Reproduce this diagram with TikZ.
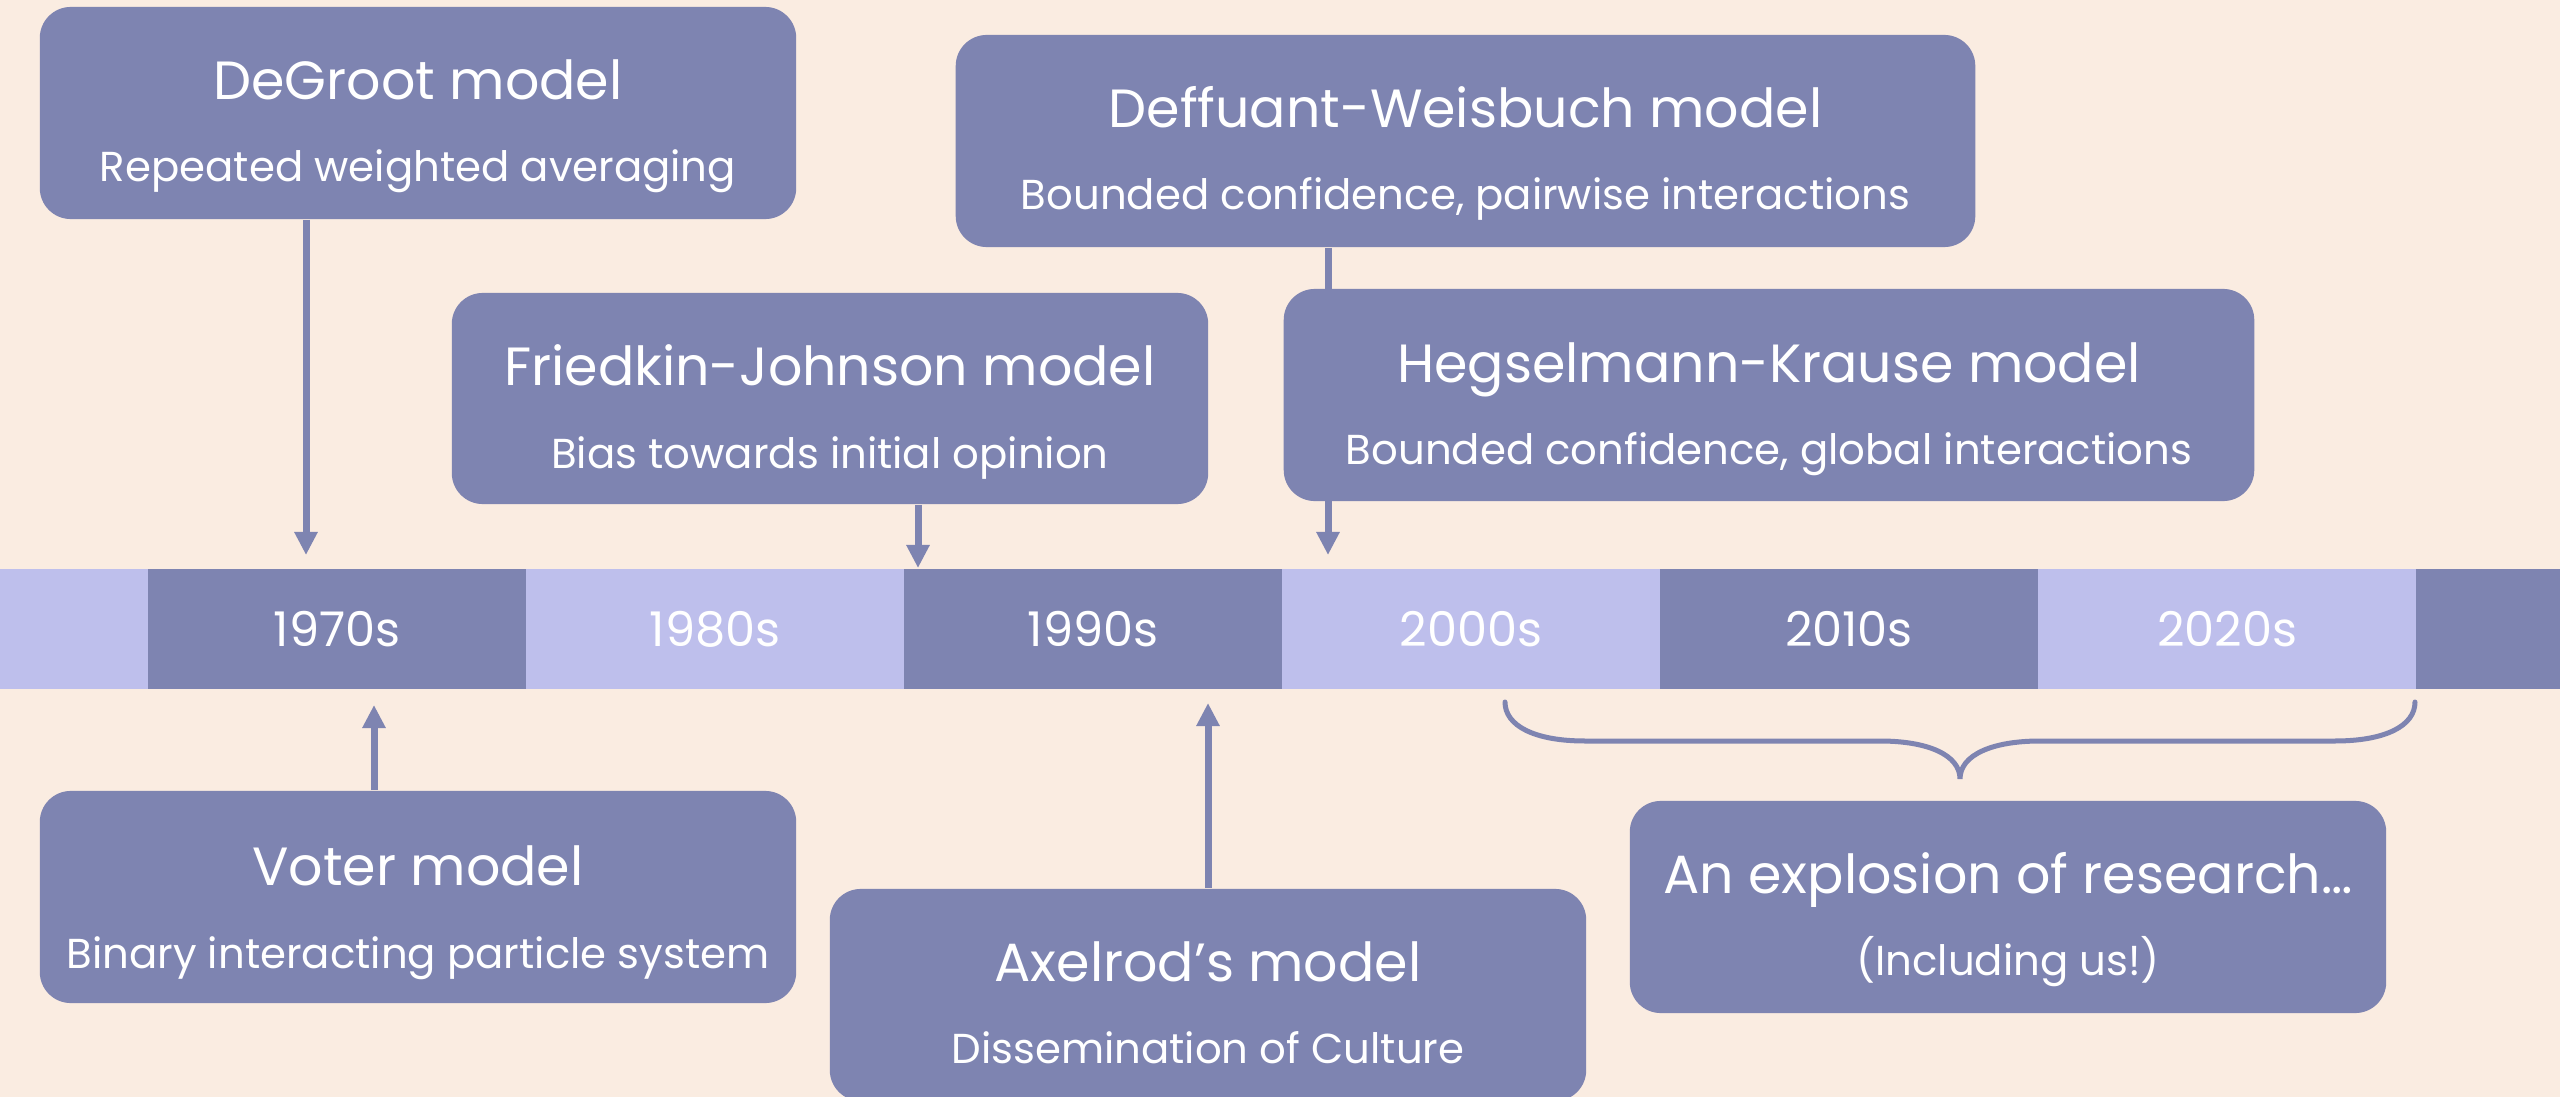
\documentclass[tikz,border=0pt]{standalone}
\usepackage{fontspec}
\setmainfont{Poppins}
\usetikzlibrary{arrows.meta}

\definecolor{bg}{HTML}{FAECE1}
\definecolor{deep}{HTML}{7E84B1}
\definecolor{pale}{HTML}{BEBFEC}

\tikzset{
  card/.style={fill=deep, rounded corners=0.31cm, inner sep=0pt,
               minimum width=7.56cm, minimum height=2.12cm},
  ttl/.style={text=white, anchor=base, inner sep=0pt,
              font=\fontsize{15.3}{18}\selectfont},
  sub/.style={text=white, anchor=base, inner sep=0pt,
              font=\fontsize{11.9}{15}\selectfont},
  era/.style={minimum width=3.78cm, minimum height=1.2cm, inner sep=0pt,
              text=white, font=\fontsize{13.6}{16}\selectfont},
  darkera/.style={era, fill=deep},
  lightera/.style={era, fill=pale},
  link/.style={draw=deep, line width=0.07cm,
               -{Triangle[length=0.23cm, width=0.22cm]}},
  brace/.style={draw=deep, line width=0.05cm, line cap=round},
}

\begin{document}
\begin{tikzpicture}[x=0.01cm, y=-0.01cm]
  % canvas
  \useasboundingbox (0,0) rectangle (2560,1097);
  \fill[bg] (0,0) rectangle (2560,1097);

  % timeline band
  \node[lightera, minimum width=1.48cm] (pre) at (74,629) {};
  \node[darkera]  (d70) at (337,629)  {1970s};
  \node[lightera] (d80) at (715,629)  {1980s};
  \node[darkera]  (d90) at (1093,629) {1990s};
  \node[lightera] (d00) at (1471,629) {2000s};
  \node[darkera]  (d10) at (1849,629) {2010s};
  \node[lightera] (d20) at (2227,629) {2020s};
  \node[darkera, minimum width=1.44cm] (post) at (2488,629) {};

  % arrow tips near the band
  \coordinate (tDG) at (306,555);
  \coordinate (tFJ) at (918,568);
  \coordinate (tDW) at (1328,555);
  \coordinate (tVM) at (374,705);
  \coordinate (tAX) at (1208,703);

  % Deffuant-Weisbuch box and its connector (runs behind the HK box)
  \node[card, minimum width=10.19cm] (dw) at (1465.5,141) {};
  \draw[link] (dw.south -| tDW) -- (tDW);

  % model boxes
  \node[card] (dg) at (418,113) {};
  \node[card, minimum height=2.11cm] (fj) at (830,398.5) {};
  \node[card, minimum width=9.70cm] (hk) at (1769,395) {};
  \node[card] (vm) at (418,897) {};
  \node[card] (ax) at (1208,995) {};
  \node[card] (ex) at (2008,907) {};

  % connectors
  \draw[link] (dg.south -| tDG) -- (tDG);
  \draw[link] (fj.south -| tFJ) -- (tFJ);
  \draw[link] (vm.north -| tVM) -- (tVM);
  \draw[link] (ax.north -| tAX) -- (tAX);

  % box texts
  \node[ttl] at (418,100) {DeGroot model};
  \node[sub] at (418,182) {Repeated weighted averaging};

  \node[ttl] at (1465.5,128) {Deffuant-Weisbuch model};
  \node[sub] at (1465.5,210) {Bounded confidence, pairwise interactions};

  \node[ttl] at (830,386) {Friedkin-Johnson model};
  \node[sub] at (830,468) {Bias towards initial opinion};

  \node[ttl] at (1769,382) {Hegselmann-Krause model};
  \node[sub] at (1769,464) {Bounded confidence, global interactions};

  \node[ttl] at (418,885) {Voter model};
  \node[sub] at (418,968) {Binary interacting particle system};

  \node[ttl] at (1208,981) {Axelrod’s model};
  \node[sub] at (1208,1063) {Dissemination of Culture};

  \node[ttl] at (2008,893) {An explosion of research…};
  \node[sub] at (2008,975) {(Including us!)};

  % brace over the 2000s–2020s
  \coordinate (bL) at (1505,702);
  \coordinate (bM) at (1960,779);
  \coordinate (bR) at (2415,702);
  \draw[brace] (bL) .. controls (1505,726) and (1535,741) .. (1585,741)
               -- (1880,741) .. controls (1928,741) and (1960,755) .. (bM)
               .. controls (1960,755) and (1992,741) .. (2040,741)
               -- (2335,741) .. controls (2385,741) and (2415,726) .. (bR);
\end{tikzpicture}
\end{document}
